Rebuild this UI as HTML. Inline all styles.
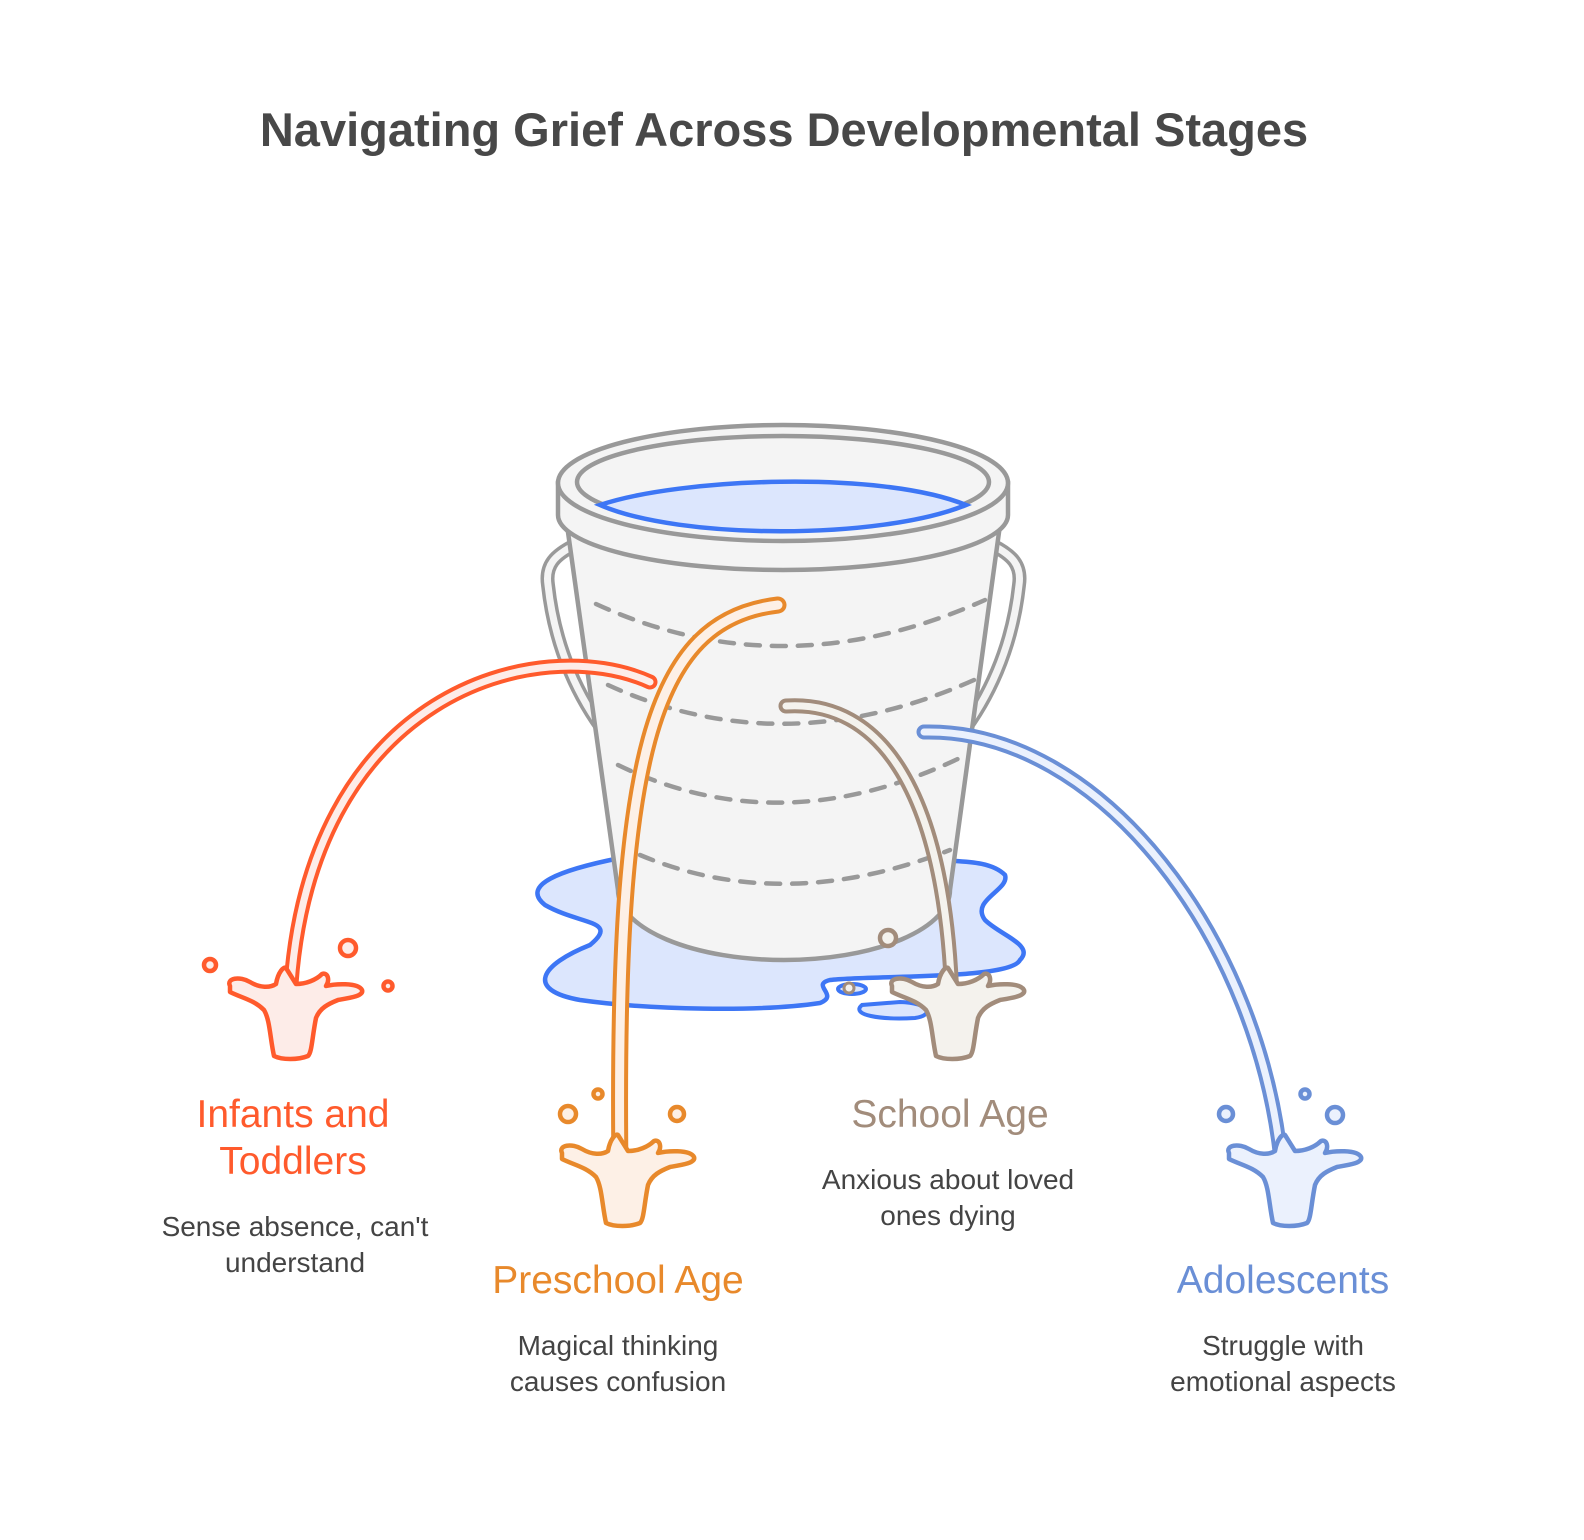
<!DOCTYPE html>
<html><head><meta charset="utf-8"><style>
body{margin:0;background:#fff;width:1584px;height:1540px;overflow:hidden}
svg{display:block}
text{font-family:"Liberation Sans",Arial,sans-serif}
</style></head><body>
<svg width="1584" height="1540" viewBox="0 0 1584 1540" xmlns="http://www.w3.org/2000/svg">
<rect width="1584" height="1540" fill="#fff"/>
<text x="784" y="146" text-anchor="middle" font-size="47" font-weight="bold" fill="#484848">Navigating Grief Across Developmental Stages</text>

<!-- puddle -->
<path d="M620,858 C560,870 520,885 545,905 C580,925 620,920 590,945 C540,965 525,990 580,1000 C650,1010 760,1012 820,1003 C840,995 810,985 830,980 C870,975 1010,980 1020,960 C1035,945 1000,935 985,920 C970,900 1010,890 1005,875 C990,860 960,862 940,860 Z" fill="#dce6fd" stroke="#3d76f5" stroke-width="4.5"/>
<path d="M862,1005 C850,1015 880,1020 915,1018 C935,1015 930,1003 900,1002 Z" fill="#dce6fd" stroke="#3d76f5" stroke-width="4"/>
<ellipse cx="852" cy="989" rx="14" ry="5" fill="#dce6fd" stroke="#3d76f5" stroke-width="4"/>
<circle cx="849" cy="988" r="5" fill="#f3f1ee" stroke="#a28c7b" stroke-width="3"/>

<!-- handles -->
<path d="M575,545 C555,555 545,565 548,585 C555,650 580,700 607,735" fill="none" stroke="#999" stroke-width="14" stroke-linecap="round"/>
<path d="M575,545 C555,555 545,565 548,585 C555,650 580,700 607,735" fill="none" stroke="#f4f4f4" stroke-width="7" stroke-linecap="round"/>
<path d="M992,545 C1012,555 1022,565 1019,585 C1012,650 987,700 960,735" fill="none" stroke="#999" stroke-width="14" stroke-linecap="round"/>
<path d="M992,545 C1012,555 1022,565 1019,585 C1012,650 987,700 960,735" fill="none" stroke="#f4f4f4" stroke-width="7" stroke-linecap="round"/>

<!-- body -->
<path d="M567,525 L618,890 A166,70 0 0 0 950,890 L1000,525 Z" fill="#f4f4f4" stroke="#999" stroke-width="4.5" stroke-linejoin="round"/>
<g fill="none" stroke="#999" stroke-width="4.5" stroke-dasharray="14,12" stroke-linecap="round">
<path d="M596,604 Q783,690 985,600"/>
<path d="M608,685 Q783,765 974,680"/>
<path d="M618,765 Q783,845 966,755"/>
<path d="M640,855 Q783,915 950,850"/>
</g>
<!-- rim -->
<path d="M558,483 L558,515 A225,55 0 0 0 1008,515 L1008,483 Z" fill="#f4f4f4" stroke="#999" stroke-width="4.5"/>
<ellipse cx="783" cy="483" rx="225" ry="58" fill="#f4f4f4" stroke="#999" stroke-width="4.5"/>
<ellipse cx="783" cy="482" rx="206" ry="46" fill="#f4f4f4" stroke="#999" stroke-width="4.5"/>
<path d="M600,505 C680,478 880,470 966,505 C880,540 680,540 600,505 Z" fill="#dce6fd" stroke="#3d76f5" stroke-width="4.5"/>

<!-- streams -->
<g fill="none" stroke-linecap="round">
<path d="M650,682 C540,632 305,690 290,1000" stroke="#ff5a2c" stroke-width="15"/>
<path d="M650,682 C540,632 305,690 290,1000" stroke="#fdece8" stroke-width="7"/>
<path d="M778,605 C650,620 615,760 620,1170" stroke="#e8892b" stroke-width="17"/>
<path d="M778,605 C650,620 615,760 620,1170" stroke="#fdf0e6" stroke-width="9"/>
<path d="M786,706 C880,700 945,790 952,1000" stroke="#a28c7b" stroke-width="15"/>
<path d="M786,706 C880,700 945,790 952,1000" stroke="#f4f2ed" stroke-width="7"/>
<path d="M924,732 C1100,728 1262,940 1282,1170" stroke="#6a8fd6" stroke-width="15"/>
<path d="M924,732 C1100,728 1262,940 1282,1170" stroke="#ebf1fd" stroke-width="7"/>
</g>

<!-- splashes -->
<g stroke-width="4.5" stroke-linejoin="round">
<g transform="translate(288,998)" fill="#fdece8" stroke="#ff5a2c">
<path d="M-58,-12 C-62,-20 -48,-22 -38,-16 C-28,-10 -18,-10 -12,-14 C-10,-26 -4,-32 -2,-30 L8,-14 C18,-14 28,-18 34,-24 C40,-26 42,-18 38,-12 C46,-14 70,-16 74,-8 C76,-2 62,0 50,2 C40,6 32,10 28,20 C24,40 24,54 20,58 C10,62 -6,62 -14,58 C-18,40 -18,22 -24,12 C-34,2 -46,0 -58,-6 Z"/>
<circle cx="-78" cy="-33" r="6" /><circle cx="60" cy="-50" r="8"/><circle cx="100" cy="-12" r="4.5"/>
</g>
<g transform="translate(620,1165)" fill="#fdf0e6" stroke="#e8892b">
<path d="M-58,-12 C-62,-20 -48,-22 -38,-16 C-28,-10 -18,-10 -12,-14 C-10,-26 -4,-32 -2,-30 L8,-14 C18,-14 28,-18 34,-24 C40,-26 42,-18 38,-12 C46,-14 70,-16 74,-8 C76,-2 62,0 50,2 C40,6 32,10 28,20 C24,40 24,54 20,58 C10,62 -6,62 -14,58 C-18,40 -18,22 -24,12 C-34,2 -46,0 -58,-6 Z"/>
<circle cx="-52" cy="-51" r="8"/><circle cx="-22" cy="-71" r="4.5"/><circle cx="57" cy="-51" r="7"/>
</g>
<g transform="translate(950,998)" fill="#f4f2ed" stroke="#a28c7b">
<path d="M-58,-12 C-62,-20 -48,-22 -38,-16 C-28,-10 -18,-10 -12,-14 C-10,-26 -4,-32 -2,-30 L8,-14 C18,-14 28,-18 34,-24 C40,-26 42,-18 38,-12 C46,-14 70,-16 74,-8 C76,-2 62,0 50,2 C40,6 32,10 28,20 C24,40 24,54 20,58 C10,62 -6,62 -14,58 C-18,40 -18,22 -24,12 C-34,2 -46,0 -58,-6 Z"/>
<circle cx="-62" cy="-60" r="8"/>
</g>
<g transform="translate(1287,1165)" fill="#ebf1fd" stroke="#6a8fd6">
<path d="M-58,-12 C-62,-20 -48,-22 -38,-16 C-28,-10 -18,-10 -12,-14 C-10,-26 -4,-32 -2,-30 L8,-14 C18,-14 28,-18 34,-24 C40,-26 42,-18 38,-12 C46,-14 70,-16 74,-8 C76,-2 62,0 50,2 C40,6 32,10 28,20 C24,40 24,54 20,58 C10,62 -6,62 -14,58 C-18,40 -18,22 -24,12 C-34,2 -46,0 -58,-6 Z"/>
<circle cx="-61" cy="-51" r="7"/><circle cx="18" cy="-71" r="4.5"/><circle cx="48" cy="-50" r="8"/>
</g>
</g>

<!-- labels -->
<g text-anchor="middle">
<text x="293" y="1127" font-size="39" fill="#ff5a2c">Infants and</text>
<text x="293" y="1174" font-size="39" fill="#ff5a2c">Toddlers</text>
<text x="295" y="1236" font-size="28" fill="#444">Sense absence, can't</text>
<text x="295" y="1272" font-size="28" fill="#444">understand</text>

<text x="618" y="1293" font-size="39" fill="#e8892b">Preschool Age</text>
<text x="618" y="1355" font-size="28" fill="#444">Magical thinking</text>
<text x="618" y="1391" font-size="28" fill="#444">causes confusion</text>

<text x="950" y="1127" font-size="39" fill="#a28c7b">School Age</text>
<text x="948" y="1189" font-size="28" fill="#444">Anxious about loved</text>
<text x="948" y="1225" font-size="28" fill="#444">ones dying</text>

<text x="1283" y="1293" font-size="39" fill="#6a8fd6">Adolescents</text>
<text x="1283" y="1355" font-size="28" fill="#444">Struggle with</text>
<text x="1283" y="1391" font-size="28" fill="#444">emotional aspects</text>
</g>
</svg>
</body></html>
